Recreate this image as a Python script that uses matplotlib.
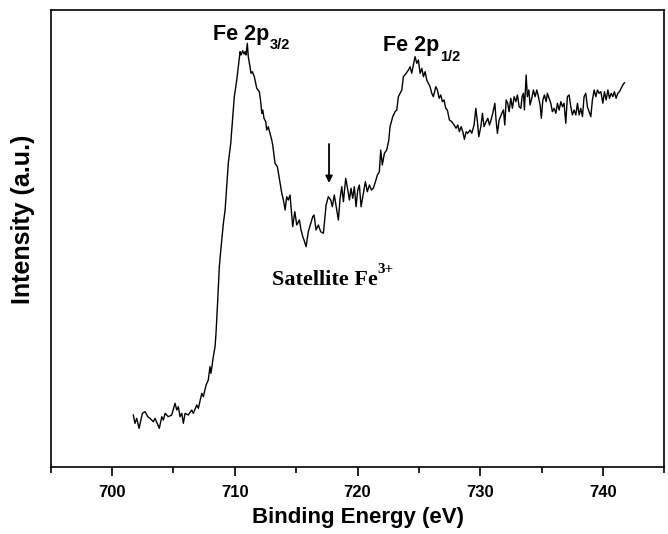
import matplotlib.pyplot as plt

# Fe 2p XPS spectrum
energy = [701.73, 701.87, 702.01, 702.20, 702.47, 702.69, 702.91, 703.09, 703.36, 703.50,
          703.85, 704.05, 704.18, 704.32, 704.58, 704.86, 705.13, 705.27, 705.40, 705.54,
          705.68, 705.81, 705.95, 706.21, 706.49, 706.62, 706.90, 707.03, 707.31, 707.44,
          707.66, 707.84, 707.98, 708.06, 708.25, 708.39, 708.47, 708.61, 708.74, 708.86,
          709.07, 709.21, 709.47, 709.67, 709.88, 709.96, 710.16, 710.29, 710.43, 710.51,
          710.65, 710.75, 710.84, 710.92, 711.02, 711.10, 711.24, 711.32, 711.43, 711.59,
          711.79, 712.00, 712.11, 712.20, 712.28, 712.38, 712.52, 712.60, 712.73, 712.87,
          713.01, 713.09, 713.28, 713.47, 713.63, 713.83, 713.96, 714.10, 714.23, 714.36,
          714.50, 714.72, 714.89, 715.05, 715.26, 715.40, 715.54, 715.64, 715.81, 715.99,
          716.19, 716.35, 716.46, 716.62, 716.81, 717.00, 717.22, 717.44, 717.62, 717.82,
          717.95, 718.11, 718.31, 718.44, 718.58, 718.72, 718.85, 719.04, 719.21, 719.34,
          719.47, 719.61, 719.74, 719.88, 720.02, 720.15, 720.29, 720.48, 720.64, 720.80,
          720.97, 721.13, 721.29, 721.46, 721.62, 721.78, 721.89, 722.02, 722.19, 722.38,
          722.55, 722.65, 722.87, 723.06, 723.20, 723.33, 723.47, 723.61, 723.74, 723.96,
          724.15, 724.28, 724.42, 724.55, 724.69, 724.83, 724.96, 725.10, 725.24, 725.37,
          725.51, 725.64, 725.77, 725.91, 726.05, 726.18, 726.38, 726.51, 726.65, 726.78,
          726.92, 727.05, 727.19, 727.32, 727.49, 727.68, 727.87, 728.03, 728.17, 728.30,
          728.44, 728.58, 728.71, 728.85, 728.98, 729.17, 729.31, 729.50, 729.64, 729.77,
          729.88, 730.05, 730.18, 730.31, 730.48, 730.62, 730.75, 730.88, 731.02, 731.19,
          731.29, 731.40, 731.54, 731.76, 731.89, 732.00, 732.11, 732.24, 732.35, 732.49,
          732.62, 732.76, 732.90, 733.03, 733.17, 733.31, 733.41, 733.52, 733.60, 733.74,
          733.84, 733.96, 734.06, 734.20, 734.33, 734.47, 734.61, 734.74, 734.88, 734.98,
          735.10, 735.23, 735.37, 735.47, 735.61, 735.75, 735.88, 736.02, 736.16, 736.29,
          736.43, 736.57, 736.70, 736.83, 736.97, 737.10, 737.24, 737.38, 737.51, 737.65,
          737.79, 737.92, 738.06, 738.19, 738.33, 738.46, 738.60, 738.73, 738.87, 739.01,
          739.14, 739.28, 739.42, 739.55, 739.69, 739.83, 739.99, 740.12, 740.26, 740.40,
          740.53, 740.67, 740.80, 740.93, 741.07, 741.21, 741.34, 741.48, 741.62, 741.75]
intensity = [51.7, 43.4, 48.4, 38.4, 53.4, 55.0, 50.0, 48.4, 45.0, 48.4,
             38.4, 50.0, 46.7, 53.4, 50.0, 51.7, 63.4, 56.7, 60.0, 50.0,
             53.4, 43.4, 53.4, 51.7, 56.7, 53.4, 61.7, 58.4, 73.4, 70.0,
             81.7, 86.7, 100.0, 93.4, 110.0, 120.0, 133.4, 166.7, 200.0, 216.7,
             243.4, 256.7, 303.4, 323.4, 356.7, 370.0, 386.7, 400.0, 415.0, 411.7,
             416.0, 412.7, 415.0, 411.7, 423.4, 410.0, 400.0, 393.4, 395.0, 390.0,
             378.4, 375.0, 365.0, 353.4, 356.7, 348.4, 345.0, 336.7, 340.0, 333.4,
             326.7, 321.7, 303.4, 300.0, 288.4, 273.4, 266.7, 256.7, 270.0, 266.7,
             271.7, 240.0, 255.0, 241.7, 246.7, 236.7, 230.0, 226.7, 220.0, 235.0,
             243.4, 250.0, 251.7, 236.7, 241.7, 235.0, 233.4, 261.7, 270.0, 266.7,
             260.0, 271.7, 256.7, 246.7, 268.4, 280.0, 265.0, 288.4, 276.7, 266.7,
             278.4, 268.4, 280.0, 260.0, 276.7, 281.7, 260.0, 273.4, 285.0, 275.0,
             281.7, 276.7, 278.4, 285.0, 291.7, 295.0, 316.7, 301.7, 313.4, 316.7,
             326.7, 340.0, 350.0, 355.0, 356.7, 370.0, 373.4, 376.7, 390.0, 393.4,
             396.7, 400.0, 393.4, 401.7, 410.0, 403.4, 406.7, 393.4, 398.4, 390.0,
             395.0, 386.7, 383.4, 380.0, 373.4, 370.0, 380.0, 376.7, 368.4, 371.7,
             365.0, 366.7, 358.4, 356.7, 346.7, 345.0, 341.7, 338.4, 341.7, 335.0,
             340.0, 335.0, 327.4, 335.0, 333.4, 336.7, 333.4, 341.7, 358.4, 345.0,
             330.0, 340.0, 353.4, 340.0, 345.0, 348.4, 341.7, 346.7, 353.4, 363.4,
             346.7, 333.4, 346.7, 353.4, 356.7, 341.7, 366.7, 363.4, 355.0, 368.4,
             358.4, 370.0, 365.0, 371.7, 360.0, 358.4, 370.0, 373.4, 356.7, 391.7,
             370.0, 376.7, 361.7, 368.4, 376.7, 370.0, 376.7, 370.0, 361.7, 348.4,
             366.7, 371.7, 365.0, 373.4, 368.4, 363.4, 355.0, 358.4, 353.4, 363.4,
             356.7, 365.0, 360.0, 363.4, 343.4, 370.0, 371.7, 360.0, 351.7, 356.7,
             351.7, 363.4, 351.7, 358.4, 350.0, 370.0, 373.4, 360.0, 355.0, 350.0,
             366.7, 376.7, 370.0, 376.7, 373.4, 375.0, 363.4, 375.0, 366.7, 376.7,
             368.4, 373.4, 370.0, 375.0, 368.4, 373.4, 375.0, 378.4, 381.7, 384.0]

xticks = [700, 710, 720, 730, 740]
satellite_energy = 717.68

plt.rcParams['font.family'] = ['Liberation Sans', 'DejaVu Sans']

fig = plt.figure(figsize=(6.68, 5.34), dpi=100)
ax = fig.add_axes([0.0759, 0.126, 0.9186, 0.8553])

ax.plot(energy, intensity, color='black', lw=1.0)

ax.set_xlim(695, 745)
ax.set_ylim(0, 456.7)
ax.set_xticks(xticks)
ax.set_xticks([695, 705, 715, 725, 735, 745], minor=True)
ax.set_yticks([])
ax.tick_params(axis='x', which='major', direction='out', length=6.5, width=1.2,
               labelsize=12, pad=7)
ax.tick_params(axis='x', which='minor', direction='out', length=4, width=1.2)
for lab in ax.get_xticklabels():
    lab.set_fontweight('bold')
for sp in ax.spines.values():
    sp.set_linewidth(1.2)

ax.set_xlabel('Binding Energy (eV)', fontsize=16, fontweight='bold', labelpad=5)
ax.set_ylabel('Intensity (a.u.)', fontsize=18, fontweight='bold')
ax.yaxis.set_label_coords(-0.026, 0.542)

# peak labels with subscripts
t1 = ax.text(708.23, 426.5, 'Fe 2p', fontsize=15.5, fontweight='bold', va='baseline')
ax.annotate('3/2', xy=(1, 0), xycoords=t1, xytext=(0.5, -3), textcoords='offset points',
            fontsize=10.5, fontweight='bold', va='baseline')
t2 = ax.text(722.08, 415.5, 'Fe 2p', fontsize=15.5, fontweight='bold', va='baseline')
ax.annotate('1/2', xy=(1, 0), xycoords=t2, xytext=(0.5, -3.5), textcoords='offset points',
            fontsize=10.5, fontweight='bold', va='baseline')

t3 = ax.text(713.01, 181.7, 'Satellite Fe', fontsize=16, fontweight='bold',
             family=['Liberation Serif', 'DejaVu Serif'], va='baseline')
ax.annotate('3+', xy=(1, 1), xycoords=t3, xytext=(0, -4.5), textcoords='offset points',
            fontsize=11, fontweight='bold', family=['Liberation Serif', 'DejaVu Serif'],
            va='bottom')

ax.annotate('', xy=(satellite_energy, 283.7), xytext=(satellite_energy, 322.7),
            arrowprops=dict(arrowstyle='-|>', color='black', lw=1.3,
                            mutation_scale=10, shrinkA=0, shrinkB=0))

fig.savefig('out.png', dpi=100)
